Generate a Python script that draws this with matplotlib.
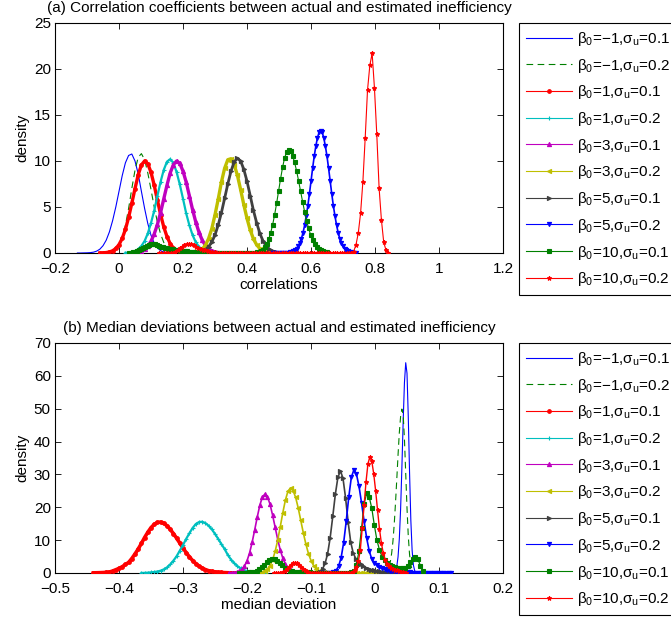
import numpy as np
import matplotlib
matplotlib.use("Agg")
import matplotlib.pyplot as plt
from matplotlib.lines import Line2D

plt.rcParams['font.family'] = ['Liberation Sans', 'DejaVu Sans']
plt.rcParams['mathtext.fontset'] = 'custom'
plt.rcParams['mathtext.rm'] = 'Liberation Sans'
plt.rcParams['mathtext.it'] = 'Liberation Sans:italic'
plt.rcParams['mathtext.bf'] = 'Liberation Sans:bold'
plt.rcParams['axes.unicode_minus'] = True

# ---------------- data ----------------
labels = ['β$_0$=−1,σ$_\\mathrm{u}$=0.1', 'β$_0$=−1,σ$_\\mathrm{u}$=0.2',
          'β$_0$=1,σ$_\\mathrm{u}$=0.1', 'β$_0$=1,σ$_\\mathrm{u}$=0.2',
          'β$_0$=3,σ$_\\mathrm{u}$=0.1', 'β$_0$=3,σ$_\\mathrm{u}$=0.2',
          'β$_0$=5,σ$_\\mathrm{u}$=0.1', 'β$_0$=5,σ$_\\mathrm{u}$=0.2',
          'β$_0$=10,σ$_\\mathrm{u}$=0.1', 'β$_0$=10,σ$_\\mathrm{u}$=0.2']

# (a) correlations: grid start, grid step, density values
corr_start = [-0.13, -0.05, -0.06, 0.02, 0.04, 0.21, 0.23, 0.48, 0.03, 0.125]
corr_step = [0.01, 0.01, 0.01, 0.01, 0.01, 0.01, 0.01, 0.005, 0.00625, 0.00724]
corr_y1 = [0, 0, 0.01, 0.02, 0.04, 0.09, 0.2, 0.41, 0.79, 1.39, 2.29, 3.51, 5.0, 6.7, 8.4, 9.8, 10.6,
           10.76, 10.0, 8.6, 6.7, 4.85, 3.2, 1.93, 1.07, 0.55, 0.25, 0.11, 0.04, 0.02, 0.01, 0, 0, 0]
corr_y2 = [0.0, 0.02, 0.05, 0.15, 0.37, 0.83, 1.67, 3.0, 4.84, 7.0, 9.0, 10.4, 10.8, 10.15, 8.7, 6.9,
           5.0, 3.35, 2.06, 1.14, 0.59, 0.28, 0.12, 0.05, 0.02, 0]
corr_y3 = [0.01, 0.02, 0.05, 0.11, 0.24, 0.49, 0.91, 1.58, 2.56, 3.86, 5.4, 7.0, 8.5, 9.57, 10.0, 9.7,
           8.77, 7.37, 5.75, 4.18, 2.82, 1.77, 1.02, 0.55, 0.28, 0.13, 0.06, 0.02, 0.01, 0, 0, 0]
corr_y4 = [0.02, 0.04, 0.1, 0.21, 0.41, 0.76, 1.3, 2.13, 3.26, 4.6, 6.2, 7.75, 9.05, 9.93, 10.2, 9.8,
           8.8, 7.45, 5.9, 4.3, 3.0, 1.94, 1.17, 0.67, 0.36, 0.18, 0.08, 0.03, 0.01, 0, 0]
corr_y5 = [0.02, 0.05, 0.1, 0.21, 0.41, 0.74, 1.28, 2.06, 3.1, 4.4, 5.9, 7.38, 8.7, 9.6, 10.0, 9.75,
           8.9, 7.7, 6.2, 4.7, 3.35, 2.25, 1.4, 0.83, 0.46, 0.24, 0.12, 0.05, 0.02, 0.01]
corr_y6 = [0.0, 0.01, 0.03, 0.08, 0.19, 0.42, 0.84, 1.57, 2.64, 4.15, 5.85, 7.7, 9.2, 10.14, 10.25,
           9.6, 8.45, 6.9, 5.25, 3.76, 2.5, 1.54, 0.9, 0.48, 0.24, 0.11, 0.05, 0.02, 0.01, 0]
corr_y7 = [0.01, 0.04, 0.08, 0.18, 0.36, 0.68, 1.19, 1.96, 3.04, 4.38, 5.93, 7.5, 8.9, 9.9, 10.3,
           10.0, 9.1, 7.8, 6.24, 4.65, 3.3, 2.15, 1.32, 0.76, 0.41, 0.21, 0.1, 0.04, 0.02, 0.01]
corr_y8 = [0, 0, 0, 0, 0, 0, 0, 0,
           0.01, 0.02, 0.03, 0.06, 0.11, 0.18, 0.30, 0.47, 0.73, 1.08, 1.56, 2.2, 3.0, 4.0, 5.1, 6.4,
           7.8, 9.2, 10.5, 11.6, 12.5, 13.1, 13.3, 13.1, 12.5, 11.6, 10.5, 9.2, 7.8, 6.4, 5.1, 4.0,
           3.0, 2.2, 1.56, 1.08, 0.73, 0.47, 0.30, 0.18, 0.11, 0.06, 0.03, 0.02, 0.01]
corr_y9 = ([0.02, 0.04, 0.07, 0.12, 0.2, 0.3, 0.42, 0.55, 0.68, 0.8, 0.9, 0.96, 0.97, 0.93, 0.86,
            0.78, 0.7, 0.63, 0.57, 0.52, 0.47, 0.43, 0.39, 0.36, 0.33, 0.3, 0.27, 0.24, 0.21, 0.19,
            0.16, 0.14, 0.12, 0.1, 0.09, 0.07, 0.06, 0.05, 0.04, 0.03, 0.03, 0.02, 0.02, 0.01]
           + [0] * 17
           + [0.01, 0.02, 0.03, 0.06, 0.12, 0.21, 0.36, 0.6, 0.96, 1.47, 2.16, 3.05, 4.14, 5.39,
              6.74, 8.09, 9.33, 10.33, 10.98, 11.2, 11.04, 10.57, 9.84, 8.92, 7.84, 6.7, 5.58,
              4.49, 3.52, 2.68, 1.98, 1.43, 0.99, 0.67, 0.44, 0.29, 0.18, 0.11, 0.06])
corr_y10 = ([0] * 6
            + [0.05, 0.15, 0.3, 0.5, 0.7, 0.85, 0.95, 0.98, 0.93, 0.82, 0.7, 0.58, 0.47, 0.37, 0.28,
               0.2, 0.14, 0.1, 0.07, 0.05, 0.03, 0.02, 0.01]
            + [0] * 54
            + [0.02, 0.15, 0.87, 2.14, 4.3, 7.75, 12.5, 17.7, 20.4, 21.7, 17.9, 12.9, 7.07, 3.6,
               1.16, 0.29, 0.0])
corr_ticks = [-0.2, 0, 0.2, 0.4, 0.6, 0.8, 1.0, 1.2]
corr_ticklabels = ['−0.2', '0', '0.2', '0.4', '0.6', '0.8', '1', '1.2']
corr_yticks = [0, 5, 10, 15, 20, 25]

# (b) median deviations
med_start = [0.024, 0.010, -0.44, -0.365, -0.228, -0.188, -0.11, -0.085, -0.213, -0.158]
med_step = [0.002, 0.002, 0.005, 0.005, 0.004, 0.004, 0.004, 0.004, 0.004, 0.003]
med_y1 = [0.0, 0.02, 0.06, 0.23, 0.71, 1.97, 4.9, 10.4, 19.4, 32.0, 46.0, 57.9, 64.0, 60.8, 47.5,
          30.5, 16.0, 6.9, 2.4, 0.71, 0.17, 0.03, 0.0, 0.0]
med_y2 = [0.01, 0.04, 0.09, 0.21, 0.46, 0.96, 1.88, 3.47, 5.96, 9.6, 14.7, 21.2, 28.4, 35.9, 42.7,
          47.6, 49.9, 48.2, 40.8, 30.3, 19.8, 11.2, 5.6, 2.5, 0.94, 0.32, 0.09, 0.02, 0.0]
med_y3 = [0.05, 0.07, 0.1, 0.14, 0.2, 0.3, 0.6, 1.0, 1.4, 1.9, 2.6, 3.2, 4.4, 5.8, 7.3, 9.0, 10.8,
          12.4, 13.8, 14.8, 15.4, 15.5, 15.1, 14.4, 13.3, 12.0, 10.6, 9.1, 7.6, 6.2, 4.9, 3.8, 2.85,
          2.1, 1.5, 1.05, 0.7, 0.5, 0.35, 0.25, 0.17, 0.12, 0.08, 0.05, 0.03, 0.02, 0.01, 0.0, 0.0]
med_y4 = [0.02, 0.04, 0.1, 0.2, 0.3, 0.45, 0.7, 1.1, 1.7, 2.6, 3.75, 5.1, 6.8, 8.5, 10.4, 12.1, 13.7,
          14.9, 15.5, 15.6, 15.2, 14.4, 13.3, 11.9, 10.4, 8.8, 7.3, 5.5, 4.1, 3.0, 2.1, 1.4, 0.9,
          0.55, 0.33, 0.19, 0.1, 0.05, 0.02, 0.01]
med_y5 = [0.02, 0.04, 0.1, 0.24, 0.53, 1.1, 2.1, 3.7, 6.1, 9.3, 13.1, 17.0, 20.6, 23.1, 24.0, 23.2,
          20.9, 17.6, 13.9, 10.2, 7.0, 4.5, 2.7, 1.5, 0.8, 0.39, 0.17, 0.07, 0.03, 0.01]
med_y6 = ([0.02, 0.04, 0.11, 0.26, 0.57, 1.2, 2.25, 4.0, 6.6, 10.0, 14.1, 18.4, 22.2, 24.9, 25.9,
           25.1, 23.0, 19.8, 16.0, 12.2, 8.8, 5.9, 3.8, 2.26, 1.3, 0.68, 0.34, 0.16, 0.07, 0.03, 0.01]
          + [0] * 32)
med_y7 = [0, 0, 0.01, 0.02, 0.05, 0.15, 0.45, 1.2, 2.9, 5.9, 10.8, 17.2, 23.9, 29.1, 31.1, 28.8, 22.9,
          15.5, 9.5, 6.0, 4.4, 3.4, 2.7, 2.1, 1.6, 1.25, 1.0, 0.8, 0.65, 0.55, 0.45, 0.38, 0.3, 0.25,
          0.2, 0.15, 0.12, 0.09, 0.07, 0.05, 0.03, 0.02, 0.01, 0.0]
med_y8 = [0, 0, 0.01, 0.02, 0.06, 0.23, 0.73, 2.0, 4.6, 9.2, 15.7, 23.1, 29.1, 31.4, 30.1, 26.4, 21.3,
          15.7, 10.6, 6.7, 4.2, 3.0, 2.3, 1.8, 1.4, 1.1, 0.9, 0.75, 0.6, 0.5, 0.42, 0.35, 0.3, 0.25,
          0.2, 0.17, 0.14, 0.12, 0.1, 0.08, 0.07, 0.06, 0.05, 0.04, 0.03, 0.03, 0.02, 0.02, 0.01,
          0.01, 0.01, 0.0]
med_y9 = [0.05, 0.07, 0.1, 0.13, 0.18, 0.27, 0.42, 0.7, 1.1, 1.7, 2.4, 3.2, 3.9, 4.3, 4.2, 3.8, 3.1,
          2.3, 1.6, 1.1, 0.75, 0.5, 0.38, 0.3, 0.25, 0.22, 0.2, 0.18, 0.16, 0.14, 0.12, 0.1, 0.09,
          0.08, 0.07, 0.06, 0.05, 0.05, 0.05, 0.06, 0.07, 0.08, 0.1, 0.15, 0.3, 0.7, 2.5, 6.7, 13.7,
          21.1, 24.3, 23.1, 19.7, 14.5, 10.0, 7.0, 5.0, 4.0, 3.1, 2.5, 2.0, 1.7, 1.5, 1.4, 1.4, 1.6,
          2.2, 3.2, 4.4, 5.0, 4.2, 2.2, 0.6]
med_y10 = ([0.0, 0.01, 0.02, 0.06, 0.15, 0.35, 0.7, 1.2, 1.8, 2.5, 2.95, 3.1, 2.95, 2.5, 1.9, 1.3,
            0.8, 0.45, 0.25, 0.12, 0.06, 0.03, 0.01]
           + [0] * 15
           + [0.02, 0.04, 0.1, 0.29, 0.8, 1.9, 3.6, 7.0, 13.6, 20.7, 27.8, 33.3, 35.3, 34.0, 30.2,
              25.0, 19.1, 13.4, 9.0, 6.0, 4.0, 2.8, 2.1, 1.6, 1.3, 1.05, 0.85, 0.65, 0.45, 0.3,
              0.15, 0.05])
med_ticks = [-0.5, -0.4, -0.3, -0.2, -0.1, 0, 0.1, 0.2]
med_ticklabels = ['−0.5', '−0.4', '−0.3', '−0.2', '−0.1', '0', '0.1', '0.2']
med_yticks = [0, 10, 20, 30, 40, 50, 60, 70]

corr_y = [corr_y1, corr_y2, corr_y3, corr_y4, corr_y5, corr_y6, corr_y7, corr_y8, corr_y9, corr_y10]
med_y = [med_y1, med_y2, med_y3, med_y4, med_y5, med_y6, med_y7, med_y8, med_y9, med_y10]

# ---------------- styles ----------------
GREEN = (0, 0.5, 0)
OLIVE = (0.75, 0.75, 0)
GRAY = (0.25, 0.25, 0.25)
styles = [
    dict(color='blue', ls='-', marker=None, ms=0),
    dict(color=GREEN, ls='--', marker=None, ms=0),
    dict(color='red', ls='-', marker='o', ms=2.6),
    dict(color='c', ls='-', marker='+', ms=3),
    dict(color='m', ls='-', marker='^', ms=3),
    dict(color=OLIVE, ls='-', marker='<', ms=3),
    dict(color=GRAY, ls='-', marker='>', ms=3),
    dict(color='blue', ls='-', marker='v', ms=3),
    dict(color=GREEN, ls='-', marker='s', ms=2.6),
    dict(color='red', ls='-', marker='*', ms=3.2),
]
corr_lw = [0.8, 0.8, 2.4, 1.6, 2.4, 2.4, 2.0, 1.2, 0.8, 0.8]
med_lw = [0.8, 0.8, 2.6, 1.6, 1.2, 1.2, 1.2, 1.2, 0.9, 1.0]

FS = 11
W, H = 671, 624
fig = plt.figure(figsize=(W / 100, H / 100), dpi=100)

def px_axes(l, t, r, b):
    return fig.add_axes([l / W, 1 - b / H, (r - l) / W, (b - t) / H])

ax1 = px_axes(55, 23, 503, 253)
ax2 = px_axes(55, 343, 503, 573)

def draw(ax, starts, steps, ys, lws):
    for i, y in enumerate(ys):
        st = styles[i]
        x = starts[i] + steps[i] * np.arange(len(y))
        line, = ax.plot(x, y, color=st['color'], linestyle=st['ls'], lw=lws[i],
                        marker=st['marker'], ms=st['ms'], mew=0.8, zorder=2 + i)
        if st['ls'] == '--':
            line.set_dashes([6, 4])

draw(ax1, corr_start, corr_step, corr_y, corr_lw)
draw(ax2, med_start, med_step, med_y, med_lw)

def style_axes(ax, xticks, xticklabels, yticks, xlim, ylim, xlabel, title):
    ax.set_xlim(*xlim)
    ax.set_ylim(*ylim)
    ax.set_xticks(xticks)
    ax.set_xticklabels(xticklabels)
    ax.set_yticks(yticks)
    ax.tick_params(direction='in', top=True, right=True, length=4, width=0.6,
                   labelsize=FS, colors='black')
    ax.tick_params(axis='x', pad=6.5)
    ax.tick_params(axis='y', pad=3)
    for s in ax.spines.values():
        s.set_linewidth(0.8)
    ax.set_xlabel(xlabel, fontsize=FS, labelpad=1.5)
    ax.set_ylabel('density', fontsize=FS, labelpad=3)
    ax.set_title(title, fontsize=FS, pad=8)

style_axes(ax1, corr_ticks, corr_ticklabels, corr_yticks, (-0.2, 1.2), (0, 25), 'correlations',
           '(a) Correlation coefficients between actual and estimated inefficiency')
style_axes(ax2, med_ticks, med_ticklabels, med_yticks, (-0.5, 0.2), (0, 70), 'median deviation',
           '(b) Median deviations between actual and estimated inefficiency')

handles = []
for st in styles:
    h = Line2D([], [], color=st['color'], linestyle=st['ls'], lw=0.8,
               marker=st['marker'], ms=st['ms'] if st['ms'] else 0, mew=0.8)
    if st['ls'] == '--':
        h.set_dashes([6, 4])
    handles.append(h)

for top in (23, 343):
    leg = fig.legend(handles, labels, loc='upper left',
                     bbox_to_anchor=(519 / W, 1 - top / H), bbox_transform=fig.transFigure,
                     fontsize=FS, frameon=True, fancybox=False, framealpha=1,
                     borderaxespad=0, borderpad=0.45, labelspacing=0.57,
                     handlelength=3.0, handletextpad=0.35, markerscale=1.0)
    fr = leg.get_frame()
    fr.set_edgecolor('black')
    fr.set_linewidth(0.8)

fig.savefig('out.png', dpi=100)
